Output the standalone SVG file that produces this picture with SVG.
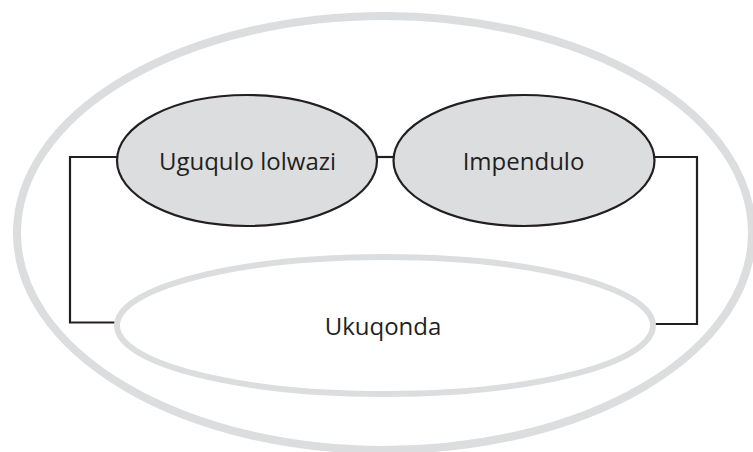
<svg xmlns="http://www.w3.org/2000/svg" width="753" height="452" viewBox="0 0 753 452">
<style>
.halo{fill:none;stroke:#dcdddf;stroke-width:8}
.soft{fill:#ffffff;stroke:#dcdddf;stroke-width:6}
.node{fill:#dcdddf;stroke:#231f20;stroke-width:2.2}
.conn{fill:none;stroke:#231f20;stroke-width:2.2}
.lbl{font-family:"Open Sans","Liberation Sans",sans-serif;font-size:24px;fill:#231f20;text-anchor:middle}
</style>
<rect width="753" height="452" fill="#ffffff"/>
<g id="outer"><ellipse class="halo" cx="384.5" cy="233" rx="367.5" ry="217"/></g>
<g id="connectors">
<polyline class="conn" points="117,157 70,157 70,322.5 118,322.5"/>
<polyline class="conn" points="655,157 697,157 697,324 653,324"/>
<line class="conn" x1="377" y1="157" x2="394" y2="157"/>
</g>
<g id="ukuqonda"><ellipse class="soft" cx="385" cy="325.5" rx="268" ry="68.5"/><text class="lbl" x="383" y="335">Ukuqonda</text></g>
<g id="uguqulo"><ellipse class="node" cx="247" cy="160.5" rx="130" ry="65.5"/><text class="lbl" x="247.5" y="170">Uguqulo lolwazi</text></g>
<g id="impendulo"><ellipse class="node" cx="524" cy="160.5" rx="130.5" ry="65.5"/><text class="lbl" x="523.5" y="170">Impendulo</text></g>
</svg>
